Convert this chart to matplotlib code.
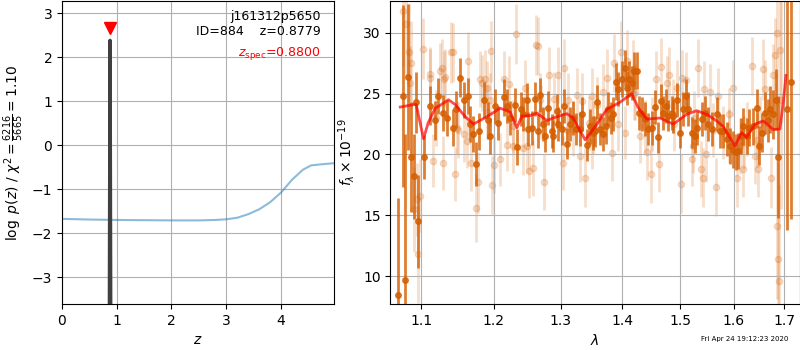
import numpy as np
import matplotlib
matplotlib.use('Agg')
import matplotlib.pyplot as plt
from matplotlib.ticker import FixedLocator, FixedFormatter, NullLocator

# p(z) curve
z_grid = [0.0, 0.5, 1.0, 1.5, 2.0, 2.5, 2.8, 3.0, 3.2, 3.4, 3.6, 3.8, 4.0, 4.2, 4.4, 4.55, 4.7, 4.97]
logp_grid = [-1.675, -1.69, -1.70, -1.705, -1.71, -1.71, -1.70, -1.685, -1.65, -1.57, -1.46, -1.30,
             -1.08, -0.79, -0.56, -0.46, -0.44, -0.41]
z_peak = [0.866, 0.8779, 0.890]
logp_peak = [-4.0, 2.38, -4.0]
z_best = 0.8779
z_spec = 0.8800

# spectrum, bright points
dark_wave = [1.0700, 1.0757, 1.0791, 1.0821, 1.0865, 1.0899, 1.0934, 1.0964, 1.1043, 1.1110,
             1.1186, 1.1230, 1.1297, 1.1351, 1.1432, 1.1464, 1.1526, 1.1581, 1.1641, 1.1665,
             1.1711, 1.1749, 1.1795, 1.1866, 1.1915, 1.1948, 1.2020, 1.2067, 1.2140, 1.2188,
             1.2237, 1.2311, 1.2345, 1.2395, 1.2434, 1.2484, 1.2509, 1.2560, 1.2600, 1.2645,
             1.2685, 1.2736, 1.2762, 1.2812, 1.2864, 1.2889, 1.2941, 1.2966, 1.3019, 1.3055,
             1.3107, 1.3149, 1.3201, 1.3244, 1.3307, 1.3335, 1.3415, 1.3468, 1.3522, 1.3549,
             1.3587, 1.3630, 1.3684, 1.3728, 1.3766, 1.3805, 1.3848, 1.3893, 1.3931, 1.3988,
             1.4043, 1.4082, 1.4116, 1.4156, 1.4201, 1.4242, 1.4287, 1.4328, 1.4385, 1.4442,
             1.4500, 1.4558, 1.4616, 1.4657, 1.4703, 1.4751, 1.4792, 1.4852, 1.4881, 1.4941,
             1.5000, 1.5049, 1.5109, 1.5150, 1.5212, 1.5273, 1.5315, 1.5395, 1.5457, 1.5518,
             1.5581, 1.5674, 1.5736, 1.5799, 1.5863, 1.5926, 1.5977, 1.6041, 1.6085, 1.6132,
             1.6182, 1.6248, 1.6298, 1.6377, 1.6444, 1.6495, 1.6542, 1.6608, 1.6673, 1.6707,
             1.6774, 1.6828, 1.6875, 1.7058, 1.7127]
dark_flux = [8.4, 24.8, 9.7, 26.4, 19.8, 18.2, 24.3, 14.5, 19.8, 24.0,
             22.8, 24.8, 23.4, 23.0, 22.2, 23.7, 26.3, 24.5, 24.8, 22.5,
             21.7, 19.2, 21.9, 24.5, 22.8, 21.5, 24.0, 22.6, 24.7, 24.0,
             23.0, 24.1, 20.6, 23.7, 23.3, 24.5, 22.1, 22.2, 24.6, 21.9,
             24.9, 22.5, 21.5, 23.8, 21.9, 21.5, 23.6, 22.5, 22.1, 24.0,
             20.9, 22.5, 23.0, 22.1, 22.1, 23.3, 20.8, 22.3, 21.8, 21.9,
             24.3, 22.1, 21.7, 22.3, 23.7, 23.0, 23.3, 26.0, 25.4, 26.2,
             27.1, 25.5, 26.2, 25.9, 26.9, 26.9, 23.4, 23.3, 22.9, 22.1,
             22.2, 23.9, 21.4, 24.4, 23.4, 24.0, 23.2, 23.4, 23.2, 24.5,
             21.8, 23.7, 24.8, 23.7, 21.8, 21.5, 22.2, 22.9, 23.4, 22.5,
             22.1, 23.3, 21.9, 21.9, 21.3, 20.7, 20.4, 20.2, 20.3, 21.5,
             22.3, 21.5, 22.2, 22.3, 23.8, 20.7, 21.8, 23.4, 22.8, 23.7,
             23.3, 24.5, 19.8, 23.7, 26.0]
dark_err = [8.0, 7.5, 12.0, 6.0, 4.5, 3.5, 2.5, 3.8, 1.8, 1.6,
            1.6, 1.5, 1.5, 1.5, 1.5, 1.5, 1.6, 1.5, 1.5, 1.5,
            1.5, 1.8, 1.5, 1.5, 1.5, 1.5, 1.4, 1.4, 1.5, 1.4,
            1.4, 1.4, 1.5, 1.4, 1.4, 1.4, 1.4, 1.4, 1.4, 1.4,
            1.4, 1.4, 1.3, 1.4, 1.4, 1.3, 1.4, 1.4, 1.3, 1.4,
            1.3, 1.4, 1.4, 1.3, 1.4, 1.4, 1.3, 1.4, 1.4, 1.3,
            1.4, 1.3, 1.4, 1.4, 1.4, 1.3, 1.4, 1.5, 1.4, 1.5,
            1.5, 1.4, 1.5, 1.4, 1.5, 1.5, 1.4, 1.4, 1.4, 1.3,
            1.4, 1.4, 1.3, 1.4, 1.4, 1.4, 1.3, 1.4, 1.4, 1.4,
            1.3, 1.4, 1.4, 1.4, 1.3, 1.4, 1.4, 1.4, 1.4, 1.4,
            1.4, 1.4, 1.4, 1.4, 1.4, 1.5, 1.5, 1.5, 1.5, 1.5,
            1.5, 1.5, 1.5, 1.5, 1.6, 1.6, 1.6, 1.7, 1.8, 1.9,
            2.0, 2.5, 5.0, 9.9, 11.3]

# spectrum, faint points
light_wave = [1.0768, 1.0804, 1.0834, 1.0865, 1.0908, 1.0943, 1.0964, 1.0978, 1.1022, 1.1110,
              1.1155, 1.1200, 1.1276, 1.1297, 1.1320, 1.1399, 1.1432, 1.1459, 1.1500, 1.1581,
              1.1641, 1.1679, 1.1749, 1.1781, 1.1829, 1.1876, 1.1900, 1.1962, 1.1972, 1.2006,
              1.2083, 1.2150, 1.2198, 1.2227, 1.2280, 1.2321, 1.2424, 1.2459, 1.2524, 1.2575,
              1.2615, 1.2660, 1.2700, 1.2746, 1.2828, 1.2900, 1.2966, 1.3035, 1.3055, 1.3100,
              1.3264, 1.3307, 1.3339, 1.3382, 1.3457, 1.3500, 1.3576, 1.3674, 1.3750, 1.3822,
              1.3860, 1.3931, 1.3971, 1.4043, 1.4071, 1.4173, 1.4200, 1.4299, 1.4425, 1.4483,
              1.4500, 1.4575, 1.4633, 1.4657, 1.4763, 1.4810, 1.4900, 1.5013, 1.5036, 1.5109,
              1.5212, 1.5250, 1.5333, 1.5377, 1.5426, 1.5438, 1.5549, 1.5600, 1.5655, 1.5900,
              1.5990, 1.6054, 1.6182, 1.6200, 1.6345, 1.6411, 1.6500, 1.6575, 1.6608, 1.6721,
              1.6774, 1.6808, 1.6842, 1.6855, 1.6875, 1.6889, 1.6909, 1.6936,
              1.0856, 1.1119, 1.1253, 1.1310, 1.1477, 1.1619, 1.1805, 1.1899, 1.1948, 1.2286,
              1.2484, 1.2685, 1.3123, 1.3201, 1.3495, 1.3511, 1.4213, 1.4385, 1.4870, 1.4952,
              1.5242, 1.5474, 1.5705, 1.5799, 1.5913, 1.6118, 1.6259, 1.6444, 1.6476]
light_flux = [31.8, 30.7, 28.4, 27.5, 15.5, 16.3, 11.8, 16.6, 28.7, 26.6,
              19.5, 23.0, 27.1, 19.3, 26.4, 28.4, 28.4, 18.4, 22.0, 21.7,
              27.7, 19.3, 15.6, 17.7, 25.9, 26.2, 23.5, 28.5, 17.5, 19.1,
              19.6, 26.2, 20.8, 25.8, 22.3, 29.9, 20.5, 25.5, 18.6, 18.9,
              29.0, 28.9, 23.5, 17.7, 26.5, 24.6, 26.5, 19.3, 27.1, 22.0,
              24.9, 19.9, 24.4, 18.1, 22.6, 21.0, 24.1, 25.1, 26.3, 20.1,
              27.5, 22.5, 28.4, 21.8, 27.7, 27.0, 25.0, 21.5, 20.2, 18.4,
              22.5, 26.2, 19.2, 27.2, 25.9, 26.5, 22.5, 17.6, 26.3, 26.1,
              19.6, 23.0, 27.1, 18.8, 18.1, 25.4, 25.1, 22.0, 17.3, 21.5,
              25.5, 18.1, 18.8, 21.0, 27.3, 19.9, 22.5, 27.0, 25.4, 18.1,
              26.5, 28.2, 14.1, 30.0, 11.4, 9.6, 28.6, 24.5,
              25.9, 26.3, 26.9, 26.2, 22.2, 21.1, 26.2, 25.5, 24.5, 20.7,
              20.7, 24.5, 24.5, 22.1, 24.8, 22.2, 25.1, 22.3, 24.0, 25.5,
              20.7, 20.0, 24.8, 21.8, 23.3, 20.7, 22.1, 21.2, 18.8]
light_err = [4.5, 4.5, 4.0, 3.5, 3.5, 3.0, 4.0, 3.0, 2.5, 2.2,
             2.2, 2.3, 2.4, 2.2, 2.3, 2.5, 2.4, 2.2, 2.3, 2.3,
             2.4, 2.3, 2.8, 2.5, 2.3, 2.4, 2.2, 2.5, 2.4, 2.3,
             2.2, 2.3, 2.2, 2.3, 2.2, 2.5, 2.2, 2.3, 2.2, 2.3,
             2.5, 2.4, 2.2, 2.3, 2.3, 2.2, 2.3, 2.2, 2.4, 2.2,
             2.2, 2.2, 2.3, 2.4, 2.2, 2.2, 2.3, 2.3, 2.4, 2.3,
             2.4, 2.2, 2.6, 2.2, 2.5, 2.4, 2.2, 2.2, 2.3, 2.4,
             2.2, 2.3, 2.3, 2.4, 2.2, 2.3, 2.2, 2.4, 2.3, 2.3,
             2.2, 2.2, 2.4, 2.3, 2.4, 2.3, 2.3, 2.2, 2.4, 2.2,
             2.3, 2.4, 2.3, 2.2, 2.4, 2.3, 2.3, 2.5, 2.4, 2.5,
             2.6, 3.0, 6.0, 6.0, 8.0, 8.0, 6.0, 9.0,
             3.0, 2.4, 2.3, 2.3, 2.2, 2.2, 2.3, 2.2, 2.2, 2.2,
             2.2, 2.2, 2.2, 2.2, 2.3, 2.2, 2.3, 2.2, 2.2, 2.3,
             2.2, 2.3, 2.3, 2.2, 2.2, 2.3, 2.2, 2.2, 2.3]

# best-fit model
model_wave = [1.0727, 1.0900, 1.0934, 1.1030, 1.1092, 1.1186, 1.1267, 1.1366, 1.1458, 1.1596,
              1.1711, 1.1899, 1.2092, 1.2237, 1.2336, 1.2410, 1.2534, 1.2635, 1.2787, 1.2941,
              1.3097, 1.3196, 1.3388, 1.3565, 1.3739, 1.3960, 1.4155, 1.4262, 1.4413, 1.4645,
              1.4881, 1.5121, 1.5303, 1.5487, 1.5661, 1.5799, 1.6021, 1.6151, 1.6248, 1.6411,
              1.6575, 1.6774, 1.6909, 1.6977, 1.7031]
model_flux = [23.9, 24.1, 24.1, 21.3, 22.6, 23.8, 24.1, 24.5, 24.1, 23.1,
              22.5, 23.1, 23.8, 23.5, 22.2, 23.15, 23.2, 23.4, 22.8, 23.1,
              23.35, 23.0, 21.2, 22.4, 23.7, 24.3, 25.0, 23.9, 22.9, 23.0,
              22.5, 23.3, 23.6, 23.3, 22.8, 22.3, 20.7, 21.8, 21.4, 22.5,
              22.75, 22.05, 22.1, 24.3, 26.5]

wave_ticks = [1.1, 1.2, 1.3, 1.4, 1.5, 1.6, 1.7]
grism_color = (0.8352941176470589, 0.3686274509803922, 0.0)

fig = plt.figure(figsize=(8, 3.5), dpi=100)

# left: p(z)
ax = fig.add_axes([0.0775, 0.1314, 0.34, 0.865])
ax.plot(z_grid, logp_grid, color='C0', alpha=0.5, lw=1.5)
ax.plot(z_peak, logp_peak, color='0.25', lw=2.5)
ax.plot([z_spec], [2.66], marker='v', color='r', markersize=8, ls='none')
ax.set_xlim(0, 4.97)
ax.set_ylim(-3.61, 3.27)
ax.set_xticks([0, 1, 2, 3, 4])
ax.set_yticks([-3, -2, -1, 0, 1, 2, 3])
ax.grid()
ax.tick_params(labelsize=10)
ax.set_xlabel(r'$z$', fontsize=10)
ax.set_ylabel(r'$\log\ p(z)$' + ' / ' + r'$\chi^2=\frac{6216}{5665}=1.10$', fontsize=10)
ax.text(0.95, 0.97, 'j161312p5650\nID=884    z=%.4f' % z_best, transform=ax.transAxes,
        ha='right', va='top', fontsize=9, linespacing=1.2)
ax.text(0.95, 0.855, r'$z_\mathrm{spec}$=%.4f' % z_spec, transform=ax.transAxes,
        ha='right', va='top', fontsize=9, color='r')

# right: spectrum
ax2 = fig.add_axes([0.4879, 0.1314, 0.5115, 0.865])
ax2.errorbar(light_wave, light_flux, yerr=light_err, fmt='o', color=grism_color,
             alpha=0.2, markersize=4.5, elinewidth=2, zorder=1)
ax2.errorbar(dark_wave, dark_flux, yerr=dark_err, fmt='o', color=grism_color,
             alpha=0.8, markersize=4, elinewidth=2, zorder=2)
ax2.plot(model_wave, model_flux, color='r', alpha=0.7, lw=2, zorder=3)
ax2.set_xscale('log')
ax2.set_xlim(1.06, 1.731)
ax2.set_ylim(7.7, 32.6)
ax2.xaxis.set_major_locator(FixedLocator(wave_ticks))
ax2.xaxis.set_major_formatter(FixedFormatter(['%.1f' % w for w in wave_ticks]))
ax2.xaxis.set_minor_locator(NullLocator())
ax2.set_yticks([10, 15, 20, 25, 30])
ax2.grid()
ax2.tick_params(labelsize=10)
ax2.set_xlabel(r'$\lambda$', fontsize=10)
ax2.set_ylabel(r'$f_\lambda\times10^{-19}$', fontsize=10)

fig.text(0.985, 0.031, 'Fri Apr 24 19:12:23 2020', ha='right', va='center', fontsize=5)

plt.savefig('out.png', dpi=100)
